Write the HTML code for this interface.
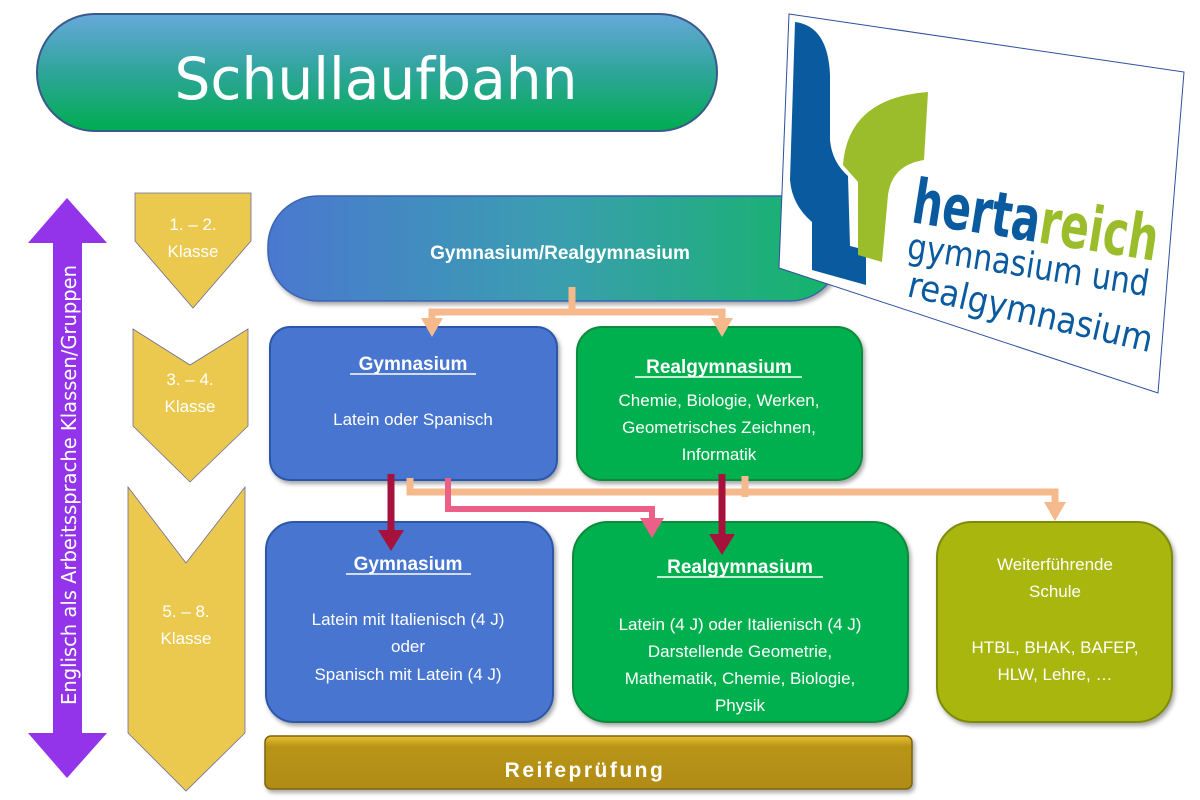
<!DOCTYPE html>
<html><head><meta charset="utf-8"><style>
html,body{margin:0;padding:0;background:#fff;}
svg{display:block;}
text{font-family:"Liberation Sans","DejaVu Sans",sans-serif;fill:#fff;}
</style></head><body>
<svg width="1200" height="800" viewBox="0 0 1200 800" xmlns="http://www.w3.org/2000/svg">
<defs>
<linearGradient id="pill" x1="0" y1="0" x2="0" y2="1"><stop offset="0" stop-color="#66a8da"/><stop offset="0.5" stop-color="#2ea59a"/><stop offset="1" stop-color="#00ad50"/></linearGradient>
<linearGradient id="top" x1="0" y1="0" x2="1" y2="0"><stop offset="0" stop-color="#4a78d0"/><stop offset="0.5" stop-color="#3a9eb0"/><stop offset="1" stop-color="#14b566"/></linearGradient>
<linearGradient id="gold" x1="0" y1="0" x2="0" y2="1"><stop offset="0" stop-color="#e8c030"/><stop offset="0.2" stop-color="#b89418"/><stop offset="1" stop-color="#b08c14"/></linearGradient>
<filter id="sh" x="-10%" y="-10%" width="130%" height="130%"><feDropShadow dx="2" dy="3" stdDeviation="2" flood-color="#000" flood-opacity="0.35"/></filter>
</defs>

<rect x="37" y="14" width="680" height="117" rx="58" fill="url(#pill)" stroke="#3a5a8a" stroke-width="2"/>
<text x="376" y="99" font-size="58" text-anchor="middle" textLength="403" lengthAdjust="spacingAndGlyphs" style="font-family:'DejaVu Sans',sans-serif">Schullaufbahn</text>

<polygon points="67,198 107,243 82,243 82,733 107,733 67,778 28,733 53,733 53,243 28,243" fill="#9333ea"/>
<text transform="translate(76,485) rotate(-90)" font-size="20" text-anchor="middle" textLength="440" lengthAdjust="spacingAndGlyphs" style="font-family:'DejaVu Sans',sans-serif">Englisch als Arbeitssprache Klassen/Gruppen</text>

<polygon points="135,193 251,193 251,241 193,308 135,241" fill="#ebc94e" stroke="#6c6c9a" stroke-width="0.8"/>
<text x="193" y="230" font-size="17" text-anchor="middle">1. – 2.</text>
<text x="193" y="257" font-size="17" text-anchor="middle">Klasse</text>
<polygon points="133,329 190,365 248,329 248,426 190,482 133,426" fill="#ebc94e" stroke="#6c6c9a" stroke-width="0.8"/>
<text x="190" y="385" font-size="17" text-anchor="middle">3. – 4.</text>
<text x="190" y="412" font-size="17" text-anchor="middle">Klasse</text>
<polygon points="128,487 186,563 245,487 245,733 186,791 128,733" fill="#ebc94e" stroke="#6c6c9a" stroke-width="0.8"/>
<text x="186" y="617" font-size="17" text-anchor="middle">5. – 8.</text>
<text x="186" y="644" font-size="17" text-anchor="middle">Klasse</text>

<rect x="268" y="196" width="572" height="105" rx="50" fill="url(#top)" stroke="#3c64b0" stroke-width="1.5" filter="url(#sh)"/>
<text x="560" y="259" font-size="19" font-weight="bold" text-anchor="middle">Gymnasium/Realgymnasium</text>

<rect x="270" y="327" width="287" height="153" rx="20" fill="#4675cf" stroke="#2f57a8" stroke-width="2" filter="url(#sh)"/>
<text x="413" y="370" font-size="19" font-weight="bold" text-anchor="middle">Gymnasium</text>
<line x1="350" y1="374" x2="476" y2="374" stroke="#fff" stroke-width="1.5"/>
<text x="413" y="425" font-size="17" text-anchor="middle">Latein oder Spanisch</text>

<rect x="577" y="327" width="285" height="153" rx="25" fill="#00b050" stroke="#0a8a3a" stroke-width="2" filter="url(#sh)"/>
<text x="719" y="373" font-size="19" font-weight="bold" text-anchor="middle">Realgymnasium</text>
<line x1="635" y1="377" x2="802" y2="377" stroke="#fff" stroke-width="1.5"/>
<text x="719" y="406" font-size="17" text-anchor="middle">Chemie, Biologie, Werken,</text>
<text x="719" y="433" font-size="17" text-anchor="middle">Geometrisches Zeichnen,</text>
<text x="719" y="460" font-size="17" text-anchor="middle">Informatik</text>

<rect x="266" y="522" width="287" height="200" rx="28" fill="#4675cf" stroke="#2f57a8" stroke-width="2" filter="url(#sh)"/>
<text x="408" y="570" font-size="19" font-weight="bold" text-anchor="middle">Gymnasium</text>
<line x1="346" y1="574" x2="471" y2="574" stroke="#fff" stroke-width="1.5"/>
<text x="408" y="625" font-size="17" text-anchor="middle">Latein mit Italienisch (4 J)</text>
<text x="408" y="652" font-size="17" text-anchor="middle">oder</text>
<text x="408" y="680" font-size="17" text-anchor="middle">Spanisch mit Latein (4 J)</text>

<rect x="573" y="522" width="335" height="200" rx="35" fill="#00b050" stroke="#0a8a3a" stroke-width="2" filter="url(#sh)"/>
<text x="740" y="573" font-size="19" font-weight="bold" text-anchor="middle">Realgymnasium</text>
<line x1="657" y1="577" x2="823" y2="577" stroke="#fff" stroke-width="1.5"/>
<text x="740" y="630" font-size="17" text-anchor="middle">Latein (4 J) oder  Italienisch (4 J)</text>
<text x="740" y="657" font-size="17" text-anchor="middle">Darstellende Geometrie,</text>
<text x="740" y="684" font-size="17" text-anchor="middle">Mathematik, Chemie, Biologie,</text>
<text x="740" y="711" font-size="17" text-anchor="middle">Physik</text>

<rect x="937" y="522" width="235" height="200" rx="35" fill="#a9b60e" stroke="#7e8a08" stroke-width="2" filter="url(#sh)"/>
<text x="1055" y="570" font-size="17" text-anchor="middle">Weiterführende</text>
<text x="1055" y="597" font-size="17" text-anchor="middle">Schule</text>
<text x="1055" y="653" font-size="17" text-anchor="middle">HTBL, BHAK, BAFEP,</text>
<text x="1055" y="680" font-size="17" text-anchor="middle">HLW, Lehre, …</text>

<rect x="265" y="736" width="647" height="53" rx="6" fill="url(#gold)" stroke="#7a6410" stroke-width="1.5" filter="url(#sh)"/>
<text x="585" y="777" font-size="21" font-weight="bold" text-anchor="middle" letter-spacing="2.5">Reifeprüfung</text>

<g fill="none" stroke="#f5b98c" stroke-width="7">
<polyline points="572,287 572,312 432,312 432,324"/>
<polyline points="572,312 722,312 722,324"/>
<polyline points="410,478 410,492 1055,492 1055,505"/>
<line x1="745" y1="476" x2="745" y2="497"/>
</g>
<g fill="#f5b98c">
<polygon points="421,318 443,318 432,337"/>
<polygon points="711,318 733,318 722,337"/>
<polygon points="1044,502 1066,502 1055,521"/>
</g>
<polyline points="448,478 448,509 652,509 652,524" fill="none" stroke="#ec5f86" stroke-width="6"/>
<polygon points="640,518 664,518 652,538" fill="#ec5f86"/>
<line x1="391" y1="474" x2="391" y2="532" stroke="#a6123c" stroke-width="7"/>
<polygon points="378,530 404,530 391,551" fill="#a6123c"/>
<line x1="722" y1="474" x2="722" y2="536" stroke="#a6123c" stroke-width="7"/>
<polygon points="709,534 735,534 722,555" fill="#a6123c"/>

<polygon points="789,14 1184,72 1158,393 779,268" fill="#fff" stroke="#2c4f9e" stroke-width="1"/>
<path d="M795,22 Q828,26 830,75 L830,140 Q832,162 848,176 L850,246 L866,250 L866,285 L812,270 L812,222 Q792,205 790,180 Z" fill="#0a5aa0"/>
<path d="M843,165 Q848,98 928,92 L924,160 Q892,165 888,195 L882,262 L858,255 L858,182 Z" fill="#9bbd2b"/>
<text transform="translate(910,222) rotate(9)" font-size="62" font-weight="bold" textLength="248" lengthAdjust="spacingAndGlyphs" style="fill:#0a5aa0;font-family:'DejaVu Sans',sans-serif">herta<tspan style="fill:#9bbd2b">reich</tspan></text>
<text transform="translate(906,258) rotate(9)" font-size="36" textLength="244" lengthAdjust="spacingAndGlyphs" style="fill:#0a5aa0;font-family:'DejaVu Sans',sans-serif">gymnasium und</text>
<text transform="translate(906,296) rotate(13)" font-size="36" textLength="250" lengthAdjust="spacingAndGlyphs" style="fill:#0a5aa0;font-family:'DejaVu Sans',sans-serif">realgymnasium</text>
</svg>
</body></html>
